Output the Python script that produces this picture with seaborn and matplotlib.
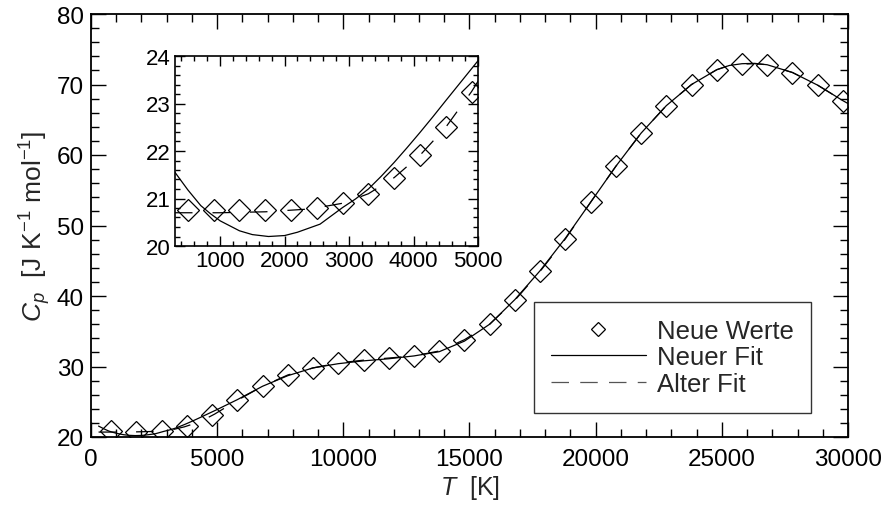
import numpy as np
import pandas as pd
import matplotlib
matplotlib.use("Agg")
import matplotlib.pyplot as plt
from matplotlib.lines import Line2D
from matplotlib.ticker import MultipleLocator
import seaborn as sns

# ---------------- data ----------------
T_main = [800, 1800, 2800, 3800, 4800, 5800, 6800, 7800, 8800, 9800,
          10800, 11800, 12800, 13800, 14800, 15800, 16800, 17800, 18800, 19800,
          20800, 21800, 22800, 23800, 24800, 25800, 26800, 27800, 28800, 29800]
cp_main = [20.8, 20.75, 20.85, 21.5, 23.1, 25.2, 27.2, 28.8, 29.8, 30.5,
           30.9, 31.2, 31.5, 32.2, 33.8, 36.0, 39.4, 43.5, 48.1, 53.3,
           58.4, 63.1, 67.0, 70.0, 72.1, 72.9, 72.8, 71.7, 69.9, 67.7]

T_inset = [500, 900, 1300, 1700, 2100, 2500, 2900, 3300, 3700, 4100, 4500, 4900]
cp_inset = [20.76, 20.76, 20.76, 20.76, 20.76, 20.8, 20.9, 21.1, 21.44, 21.91, 22.5, 23.25]

T_new = [300, 500, 700, 850, 1000, 1300, 1500, 1750, 2000, 2200, 2550, 2900, 3100, 3300,
         3500, 3700, 3900, 4100, 4300, 4500, 4750, 5000,
         5800, 6800, 7800, 8800, 9800, 10800, 11800, 12800, 13800, 14800, 15800,
         16800, 17800, 18800, 19800, 20800, 21800, 22800, 23800, 24800, 25300, 25800,
         26300, 26800, 27800, 28800, 29800, 30000]
cp_new = [21.55, 21.18, 20.85, 20.68, 20.53, 20.32, 20.24, 20.2, 20.22, 20.29, 20.46, 20.81,
          20.99, 21.2, 21.47, 21.76, 22.07, 22.39, 22.72, 23.06, 23.48, 23.9,
          25.3, 27.2, 28.7, 29.8, 30.4, 30.8, 31.1, 31.5, 32.1, 33.6, 36.0,
          39.5, 43.6, 48.2, 53.3, 58.4, 63.1, 67.0, 70.0, 72.1, 72.7, 72.95,
          73.0, 72.8, 71.7, 69.9, 67.7, 67.3]

T_old = [300, 1000, 1700, 2400, 2900, 3300, 3700, 4100, 4500, 4900,
         5800, 6800, 7800, 8800, 9800, 10800, 11800, 12800, 13800, 14800, 15800,
         16800, 17800, 18800, 19800, 20800, 21800, 22800, 23800, 24800, 25300, 25800,
         26300, 26800, 27800, 28800, 29800, 30000]
cp_old = [20.7, 20.7, 20.72, 20.78, 20.9, 21.1, 21.44, 21.91, 22.5, 23.25,
          25.2, 27.2, 28.8, 29.8, 30.5, 30.9, 31.2, 31.5, 32.2, 33.8, 36.0,
          39.4, 43.5, 48.1, 53.3, 58.4, 63.1, 67.0, 70.0, 72.1, 72.7, 72.9,
          72.95, 72.8, 71.7, 69.9, 67.7, 67.3]

labels = ["Neue Werte", "Neuer Fit", "Alter Fit"]

# ---------------- style ----------------
sns.set_theme(style="ticks")
plt.rcParams["font.family"] = ["Liberation Sans", "DejaVu Sans"]
plt.rcParams["mathtext.fontset"] = "custom"
plt.rcParams["mathtext.rm"] = "Liberation Sans"
plt.rcParams["mathtext.it"] = "Liberation Sans:italic"

DASH = (0, (14, 16))
LW = 0.9

fig = plt.figure(figsize=(8.93, 5.06), dpi=100)
ax = fig.add_axes([91/893, 1 - 438/506, (848 - 91)/893, (438 - 15)/506])

df_new = pd.DataFrame({"T": T_new, "cp": cp_new})
df_old = pd.DataFrame({"T": T_old, "cp": cp_old})
df_main = pd.DataFrame({"T": T_main, "cp": cp_main})
df_inset = pd.DataFrame({"T": T_inset, "cp": cp_inset})


def draw(a, dpts, ms):
    sns.lineplot(data=df_new, x="T", y="cp", ax=a, sort=False, estimator=None,
                 color="black", linewidth=LW)
    sns.lineplot(data=df_old, x="T", y="cp", ax=a, sort=False, estimator=None,
                 color="black", linewidth=LW, linestyle=DASH)
    sns.lineplot(data=dpts, x="T", y="cp", ax=a, sort=False, estimator=None,
                 color="black", linestyle="none", marker="D", markersize=ms,
                 markerfacecolor="none", markeredgecolor="black", markeredgewidth=0.9)


draw(ax, df_main, 11)
ax.set_xlim(0, 30000)
ax.set_ylim(20, 80)
ax.xaxis.set_major_locator(MultipleLocator(5000))
ax.xaxis.set_minor_locator(MultipleLocator(1000))
ax.yaxis.set_major_locator(MultipleLocator(10))
ax.yaxis.set_minor_locator(MultipleLocator(2))
ax.tick_params(which="both", direction="in", top=True, right=True, colors="black",
               labelsize=17.5, width=1.0)
ax.tick_params(axis="x", which="major", length=11, pad=8)
ax.tick_params(axis="y", which="major", length=11, pad=5)
ax.tick_params(which="minor", length=5.5)
for s in ax.spines.values():
    s.set_linewidth(1.3)
    s.set_color("black")
ax.set_xlabel(r"$T$  [K]", fontsize=18, labelpad=2)
ax.set_ylabel(r"$C_p$  [J K$^{\mathregular{-1}}$ mol$^{\mathregular{-1}}$]", fontsize=19, labelpad=3)

handles = [
    Line2D([], [], color="black", linestyle="none", marker="D", markersize=7.5,
           markerfacecolor="none", markeredgecolor="black", markeredgewidth=0.9),
    Line2D([], [], color="black", linewidth=LW),
    Line2D([], [], color="#555555", linewidth=LW, linestyle=(0, (14, 9))),
]
leg = ax.legend(handles, labels, loc="upper left", bbox_to_anchor=(0.585, 0.319),
                borderaxespad=0, fontsize=18.5, frameon=True, fancybox=False,
                handlelength=3.7, handletextpad=0.45, labelspacing=0.1,
                borderpad=0.65, numpoints=1)
leg.get_frame().set_edgecolor("black")
leg.get_frame().set_linewidth(1.0)

# ---------------- inset ----------------
ins = fig.add_axes([175/893, 1 - 247/506, (478 - 175)/893, (247 - 57)/506])
draw(ins, df_inset, 11)
ins.set_xlim(300, 5000)
ins.set_ylim(20, 24)
ins.xaxis.set_major_locator(MultipleLocator(1000))
ins.xaxis.set_minor_locator(MultipleLocator(200))
ins.yaxis.set_major_locator(MultipleLocator(1))
ins.yaxis.set_minor_locator(MultipleLocator(0.2))
ins.tick_params(which="both", direction="in", top=True, right=True, colors="black",
                labelsize=16, width=1.0)
ins.tick_params(which="major", length=7, pad=3)
ins.tick_params(which="minor", length=3.5)
for s in ins.spines.values():
    s.set_linewidth(1.2)
    s.set_color("black")
ins.set_xlabel("")
ins.set_ylabel("")

fig.savefig("out.png", dpi=100)
